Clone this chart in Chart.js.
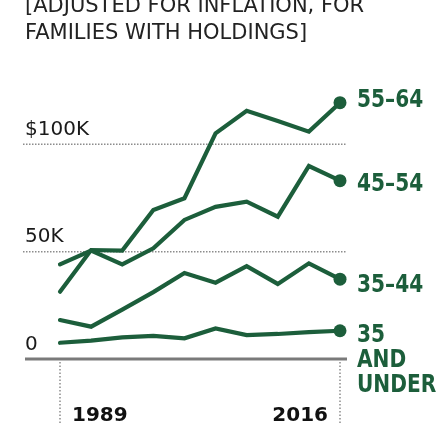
<!DOCTYPE html>
<html>
<head>
<meta charset="utf-8">
<script src="https://cdn.jsdelivr.net/npm/chart.js@4/dist/chart.umd.min.js"></script>
<style>
  html, body { margin: 0; padding: 0; background: #ffffff; }
  #wrap { position: relative; width: 444px; height: 441px; overflow: hidden; }
  #title { position: absolute; left: 25px; top: -8px; font-family: "DejaVu Sans", sans-serif;
           font-size: 21px; line-height: 27px; color: #222; white-space: nowrap; }
  canvas { position: absolute; left: 0; top: 0; }
</style>
</head>
<body>
<div id="wrap">
  <canvas id="c" width="444" height="441"></canvas>
  <div id="title">[ADJUSTED FOR INFLATION, FOR<br>FAMILIES WITH HOLDINGS]</div>
</div>
<script>
// ---- data (thousands of dollars) ----
const years    = [1989, 1992, 1995, 1998, 2001, 2004, 2007, 2010, 2013, 2016];
const under35  = [7.6, 8.6, 10.1, 10.8, 9.7, 14.3, 11.2, 11.7, 12.6, 13.2];
const age35_44 = [18.2, 15.1, 23.0, 31.2, 40.1, 35.6, 43.3, 35.0, 44.6, 37.2];
const age45_54 = [44.1, 50.5, 44.1, 51.6, 64.8, 70.9, 73.3, 66.3, 89.9, 83.1];
const age55_64 = [31.4, 50.8, 50.5, 69.4, 74.9, 105.1, 115.6, 110.9, 105.9, 119.4];
const seriesNames = [['35', 'AND', 'UNDER'], ['35–44'], ['45–54'], ['55–64']];
const yTickValues = [0, 50, 100];
const yTickLabels = ['0', '50K', '$100K'];
const yearLabels  = ['1989', '2016'];

const GREEN = '#1c5e3b';
const seriesValues = [under35, age35_44, age45_54, age55_64];
const labelNudge = [11, 13, 10, 4];

function toPoints(vals) { return years.map((yr, i) => ({ x: yr, y: vals[i] })); }

const decor = {
  id: 'decor',
  beforeDatasetsDraw(chart) {
    const { ctx, chartArea, scales } = chart;
    const xs = scales.x, ys = scales.y;
    const left = chartArea.left - 37, right = chartArea.right + 7;
    ctx.save();
    yTickValues.forEach((v, i) => {
      const py = ys.getPixelForValue(v);
      ctx.beginPath();
      if (v === 0) {
        ctx.setLineDash([]);
        ctx.strokeStyle = '#7a7a7a';
        ctx.lineWidth = 3;
        ctx.moveTo(left + 2, py); ctx.lineTo(right, py);
      } else {
        ctx.setLineDash([1.5, 1.5]);
        ctx.strokeStyle = '#8c8c8c';
        ctx.lineWidth = 1.5;
        ctx.moveTo(left, py); ctx.lineTo(right, py);
      }
      ctx.stroke();
      ctx.setLineDash([]);
      ctx.fillStyle = '#1a1a1a';
      ctx.font = '20px "DejaVu Sans", sans-serif';
      ctx.textAlign = 'left';
      ctx.textBaseline = 'alphabetic';
      ctx.fillText(yTickLabels[i], left + 2, py - 9.5);
    });
    const zeroY = ys.getPixelForValue(0);
    const ends = [years[0], years[years.length - 1]];
    ends.forEach((yr, i) => {
      const px = xs.getPixelForValue(yr);
      ctx.beginPath();
      ctx.setLineDash([1.5, 2]);
      ctx.strokeStyle = '#8c8c8c';
      ctx.lineWidth = 1.5;
      ctx.moveTo(px, zeroY + 3); ctx.lineTo(px, zeroY + 66);
      ctx.stroke();
      ctx.setLineDash([]);
      ctx.fillStyle = '#111';
      ctx.font = 'bold 20px "DejaVu Sans", sans-serif';
      ctx.textBaseline = 'alphabetic';
      if (i === 0) { ctx.textAlign = 'left'; ctx.fillText(yearLabels[0], px + 12, zeroY + 61.5); }
      else { ctx.textAlign = 'right'; ctx.fillText(yearLabels[1], px - 12, zeroY + 61.5); }
    });
    ctx.restore();
  },
  afterDatasetsDraw(chart) {
    const { ctx, scales } = chart;
    const xs = scales.x, ys = scales.y;
    ctx.save();
    ctx.fillStyle = GREEN;
    ctx.font = 'bold 24px "DejaVu Sans", sans-serif';
    ctx.textAlign = 'left';
    ctx.textBaseline = 'alphabetic';
    seriesValues.forEach((vals, si) => {
      const last = vals.length - 1;
      const px = xs.getPixelForValue(years[last]) + 17;
      const py = ys.getPixelForValue(vals[last]) + labelNudge[si];
      seriesNames[si].forEach((line, li) => {
        ctx.save();
        ctx.translate(px, py + li * 25);
        ctx.scale(0.84, 1);
        ctx.fillText(line, 0, 0);
        ctx.restore();
      });
    });
    ctx.restore();
  }
};

const pointR = (c) => c.dataIndex === years.length - 1 ? 6.5 : 0;

new Chart(document.getElementById('c'), {
  type: 'line',
  data: {
    datasets: seriesValues.map((vals) => ({
      data: toPoints(vals),
      borderColor: GREEN,
      backgroundColor: GREEN,
      borderWidth: 4.2,
      borderJoinStyle: 'miter',
      borderCapStyle: 'round',
      pointRadius: pointR,
      pointBorderWidth: 0,
      pointBackgroundColor: GREEN,
      tension: 0,
      clip: false,
      fill: false
    }))
  },
  options: {
    responsive: false,
    animation: false,
    events: [],
    elements: { line: { borderWidth: 4.2 } },
    layout: { padding: { left: 60, right: 104, top: 79.9, bottom: 81.9 } },
    scales: {
      x: { type: 'linear', min: years[0], max: years[years.length - 1], display: false },
      y: { type: 'linear', min: 0, max: 130, display: false }
    },
    plugins: { legend: { display: false }, tooltip: { enabled: false }, title: { display: false } }
  },
  plugins: [decor]
});
</script>
</body>
</html>
